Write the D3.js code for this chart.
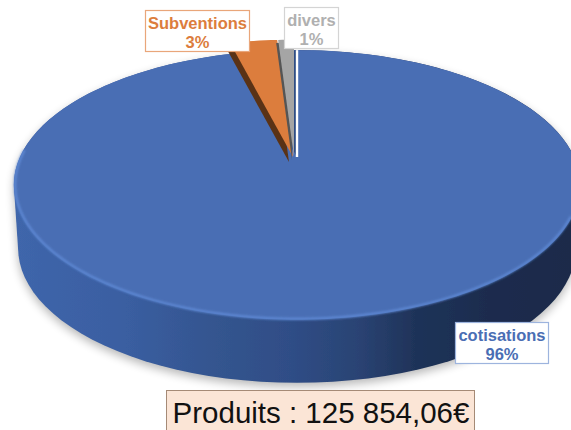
<!DOCTYPE html>
<html lang="fr">
<head>
<meta charset="UTF-8">
<title>Produits</title>
<script src="https://d3js.org/d3.v7.min.js"></script>
<style>
    body { margin: 0; background: #fff; overflow: hidden; }
    svg { display: block; font-family: "Liberation Sans", Arial, sans-serif; }
</style>
</head>
<body>
<svg width="571" height="430" viewBox="0 0 571 430"></svg>
<script>
const categories = ["cotisations", "Subventions", "divers"];
const shares = [96, 3, 1];
const labelLines = [["cotisations", "96%"], ["Subventions", "3%"], ["divers", "1%"]];
const titleText = "Produits : 125 854,06€";

const colors = ["#4a6eb4", "#dc7d3d", "#a5a5a5"];
const wallColors = ["#2f4f8a", "#5a3316", "#555555"];
const labelColors = ["#4a6eb4", "#dc7d3d", "#b0b0b0"];
const borderColors = ["#9db4de", "#e9a67a", "#d4d4d4"];

const svg = d3.select("svg");
const defs = svg.append("defs");

// pie seen in perspective, front edge is closer so the centre sits high in the ellipse
const cx = 297, cy = 157, rx = 277, ry = 129, persp = 0.207;
const depth = 64, bottomScale = 0.985;

function project(angle, r, dx, dy) {
    const u = r * Math.sin(angle), v = -r * Math.cos(angle);
    const w = 1 - persp * v;
    return [cx + (dx || 0) + rx * u / w, cy + (dy || 0) + ry * v / w];
}

function projectBottom(angle) {
    const p = project(angle, 1);
    return [cx + (p[0] - cx) * bottomScale, p[1] + depth - 0.8];
}

const slices = d3.pie().sort(null).value(d => d)(shares);
const line = d3.line();

function slicePath(s, r, dx, dy) {
    const n = Math.max(4, Math.round((s.endAngle - s.startAngle) * 40));
    const pts = [[cx + (dx || 0), cy + (dy || 0)]];
    d3.range(n + 1).forEach(i => {
        pts.push(project(s.startAngle + (s.endAngle - s.startAngle) * i / n, r, dx, dy));
    });
    return line(pts) + "Z";
}

// side wall gradient
const wallGrad = defs.append("linearGradient").attr("id", "wall")
    .attr("gradientUnits", "userSpaceOnUse")
    .attr("x1", 14).attr("x2", 571).attr("y1", 0).attr("y2", 0);
[[0, "#3f66ab"], [0.2, "#3a5ea1"], [0.36, "#34558f"], [0.5, "#2f4d86"],
 [0.62, "#2a4373"], [0.72, "#1f3359"], [0.85, "#1b2c4e"], [1, "#1a2a4a"]].forEach(d => {
    wallGrad.append("stop").attr("offset", d[0]).attr("stop-color", d[1]);
});

defs.append("filter").attr("id", "shadow").attr("x", "-10%").attr("y", "-10%")
    .attr("width", "120%").attr("height", "120%")
    .append("feGaussianBlur").attr("stdDeviation", 5);
defs.append("filter").attr("id", "soft")
    .append("feGaussianBlur").attr("stdDeviation", 0.5);
defs.append("filter").attr("id", "rimBlur")
    .append("feGaussianBlur").attr("stdDeviation", 0.8);

const ring = d3.range(0, 361, 3).map(d => d * Math.PI / 180);
const hull = d3.polygonHull(ring.map(a => project(a, 1)).concat(ring.map(projectBottom)));

// soft shadow under the disc
svg.append("path")
    .attr("d", line(hull) + "Z")
    .attr("transform", "translate(0,4)")
    .attr("fill", "#000")
    .attr("opacity", 0.28)
    .attr("filter", "url(#shadow)");

const pie = svg.append("g").attr("filter", "url(#soft)");

pie.append("path")
    .attr("d", line(hull) + "Z")
    .attr("fill", "url(#wall)");

// blue top face
pie.append("path")
    .attr("d", slicePath(slices[0], 1))
    .attr("fill", colors[0]);

// lighter rim along the front edge
const rimAngles = d3.range(115, 275, 2).map(d => d * Math.PI / 180);
pie.append("path")
    .attr("d", line(rimAngles.map(a => project(a, 0.996))))
    .attr("fill", "none")
    .attr("stroke", "#5f8ad6")
    .attr("stroke-width", 2.2)
    .attr("filter", "url(#rimBlur)");

// white cut on the 12 o'clock edge of the blue slice
pie.append("path")
    .attr("d", line([[cx, cy], project(0, 1)]))
    .attr("stroke", "#fff")
    .attr("stroke-width", 2.4);

// the two small slices are pulled out
const explode = [null, { r: 1.12, dx: -4, dy: 0 }, { r: 1.12, dx: -3, dy: 0 }];
const wallShift = [null, [-4, 5], [-2, 3]];
[1, 2].forEach(i => {
    const e = explode[i], w = wallShift[i];
    pie.append("path")
        .attr("d", slicePath(slices[i], e.r, e.dx + w[0], e.dy + w[1]))
        .attr("fill", wallColors[i]);
    pie.append("path")
        .attr("d", slicePath(slices[i], e.r, e.dx, e.dy))
        .attr("fill", colors[i]);
});

// data labels
const labelBoxes = [
    { x: 455.5, y: 322.5, w: 93, h: 41 },
    { x: 145.5, y: 10.5, w: 104, h: 41 },
    { x: 284.5, y: 7.5, w: 54, h: 41 }
];
const labels = svg.append("g").selectAll("g")
    .data(categories)
    .join("g")
    .attr("transform", (d, i) => `translate(${labelBoxes[i].x},${labelBoxes[i].y})`);

labels.append("rect")
    .attr("width", (d, i) => labelBoxes[i].w)
    .attr("height", (d, i) => labelBoxes[i].h)
    .attr("fill", "#fff")
    .attr("stroke", (d, i) => borderColors[i])
    .attr("stroke-width", 1.2);

labels.each(function (d, i) {
    d3.select(this).selectAll("text")
        .data(labelLines[i])
        .join("text")
        .attr("x", labelBoxes[i].w / 2)
        .attr("y", (t, j) => 18 + j * 19)
        .attr("text-anchor", "middle")
        .attr("font-size", 16.5)
        .attr("font-weight", "bold")
        .attr("fill", labelColors[i])
        .text(t => t);
});

// title box
svg.append("rect")
    .attr("x", 166.5).attr("y", 390.5)
    .attr("width", 308).attr("height", 42)
    .attr("fill", "#fbe5d6")
    .attr("stroke", "#a58a76")
    .attr("stroke-width", 1);
svg.append("text")
    .attr("x", 321).attr("y", 423)
    .attr("text-anchor", "middle")
    .attr("font-size", 29.5)
    .attr("fill", "#111")
    .text(titleText);
</script>
</body>
</html>
